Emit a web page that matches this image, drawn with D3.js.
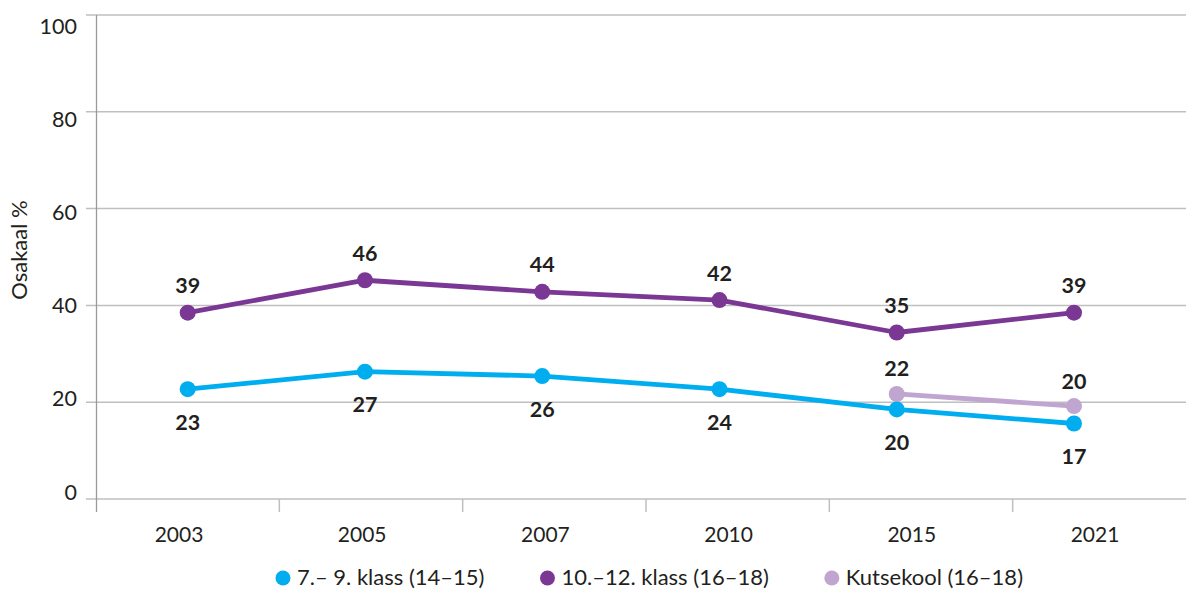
<!DOCTYPE html>
<html>
<head>
<meta charset="utf-8">
<script src="https://cdn.jsdelivr.net/npm/d3@7"></script>
<style>
  html, body { margin: 0; padding: 0; background: #fff; }
  svg { display: block; font-family: Lato, "Open Sans", sans-serif; }
</style>
</head>
<body>
<svg id="chart" width="1186" height="589"></svg>
<script>
// ---- data ----
const years = ["2003", "2005", "2007", "2010", "2015", "2021"];
const klass7_9 = [22.7, 26.3, 25.4, 22.7, 18.5, 15.6];
const klass7_9Labels = ["23", "27", "26", "24", "20", "17"];
const klass10_12 = [38.5, 45.2, 42.8, 41.1, 34.4, 38.5];
const klass10_12Labels = ["39", "46", "44", "42", "35", "39"];
const kutsekool = [null, null, null, null, 21.7, 19.2];
const kutsekoolLabels = [null, null, null, null, "22", "20"];
const yTicks = [0, 20, 40, 60, 80, 100];
const seriesNames = ["7.– 9. klass (14–15)", "10.–12. klass (16–18)", "Kutsekool (16–18)"];
const yTitle = "Osakaal %";

// ---- layout ----
const colors = ["#00AEEF", "#7B3794", "#BFA5D0"];
const textColor = "#231f20";
const svg = d3.select("#chart");

const y = d3.scaleLinear().domain([0, 100]).range([499, 15]);
const yText = d3.scaleLinear().domain([0, 100]).range([492, 26]);
const xBand = d3.scaleBand().domain(years).range([96, 1196]).padding(0);
const xPts = d3.scalePoint().domain(years).range([187.7, 1074]);
const xText = d3.scalePoint().domain(years).range([179, 1095]);

// gridlines
svg.append("g").selectAll("line").data(yTicks).join("line")
  .attr("x1", 86).attr("x2", 1186)
  .attr("y1", d => y(d)).attr("y2", d => y(d))
  .attr("stroke", "#bfbfbf").attr("stroke-width", 1.5);

// y axis line
svg.append("line").attr("x1", 96.5).attr("x2", 96.5).attr("y1", y(100)).attr("y2", 512)
  .attr("stroke", "#9a9a9a").attr("stroke-width", 1.3);

// x ticks at band boundaries
svg.append("g").selectAll("line").data(years.slice(1)).join("line")
  .attr("x1", d => xBand(d)).attr("x2", d => xBand(d))
  .attr("y1", y(0)).attr("y2", 512)
  .attr("stroke", "#bfbfbf").attr("stroke-width", 1.5);

// y tick labels
svg.append("g").selectAll("text").data(yTicks).join("text")
  .attr("x", 77).attr("y", d => yText(d)).attr("dy", "0.35em")
  .attr("text-anchor", "end").attr("font-size", 21.5).attr("fill", textColor)
  .text(d => d);

// x labels
svg.append("g").selectAll("text").data(years).join("text")
  .attr("x", d => xText(d)).attr("y", 542)
  .attr("text-anchor", "middle").attr("font-size", 21).attr("fill", textColor)
  .text(d => d);

// y title
svg.append("text").attr("transform", "translate(27,250) rotate(-90)")
  .attr("text-anchor", "middle").attr("font-size", 22).attr("fill", textColor)
  .text(yTitle);

// series
const series = [
  { vals: klass7_9, labels: klass7_9Labels, color: colors[0], dy: 33 },
  { vals: klass10_12, labels: klass10_12Labels, color: colors[1], dy: -27 },
  { vals: kutsekool, labels: kutsekoolLabels, color: colors[2], dy: -25 }
];
const line = d3.line().defined(d => d.v != null).x(d => xPts(d.year)).y(d => y(d.v));

[1, 2, 0].forEach(i => {
  const s = series[i];
  const pts = years.map((yr, j) => ({ year: yr, v: s.vals[j], label: s.labels[j] }));
  const g = svg.append("g");
  g.append("path").datum(pts).attr("d", line)
    .attr("fill", "none").attr("stroke", s.color).attr("stroke-width", 4.8)
    .attr("stroke-linejoin", "round");
  g.selectAll("circle").data(pts.filter(d => d.v != null)).join("circle")
    .attr("cx", d => xPts(d.year)).attr("cy", d => y(d.v)).attr("r", 8)
    .attr("fill", s.color);
});
series.forEach(s => {
  const pts = years.map((yr, j) => ({ year: yr, v: s.vals[j], label: s.labels[j] }));
  svg.append("g").selectAll("text").data(pts.filter(d => d.v != null)).join("text")
    .attr("x", d => xPts(d.year)).attr("y", d => y(d.v) + s.dy).attr("dy", "0.35em")
    .attr("text-anchor", "middle").attr("font-size", 21.5).attr("font-weight", "bold")
    .attr("fill", textColor).text(d => d.label);
});

// legend
const leg = svg.append("g");
let lx = 283;
seriesNames.forEach((name, i) => {
  leg.append("circle").attr("cx", lx).attr("cy", 578).attr("r", 7.5).attr("fill", colors[i]);
  const t = leg.append("text").attr("x", lx + 14).attr("y", 585)
    .attr("font-size", 22).attr("fill", textColor).text(name);
  lx += 14 + t.node().getComputedTextLength() + 63;
});
</script>
</body>
</html>
